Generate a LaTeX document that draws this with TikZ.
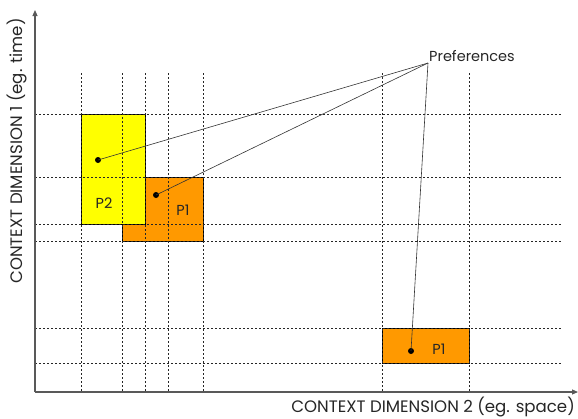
\documentclass[tikz,border=0pt]{standalone}
\usepackage{fontspec}
\setmainfont{Poppins}
\usetikzlibrary{arrows.meta}
\definecolor{pyellow}{RGB}{255,255,0}
\definecolor{porange}{RGB}{255,153,0}
\tikzset{
  grid/.style={draw=black!85, line width=0.7pt, dash pattern=on 2pt off 2pt},
  axis/.style={draw=black!65, line width=1.1pt, -{Triangle[length=6pt,width=5pt]}},
  region/.style={draw=black, line width=0.8pt},
  dot/.style={circle, fill=black, inner sep=0pt, minimum size=6pt},
  lbl/.style={font=\fontsize{14.5}{17}\selectfont, text=black!85},
  axlbl/.style={font=\fontsize{16.6}{19}\selectfont, text=black!85},
  link/.style={draw=black!80, line width=0.6pt}
}
\begin{document}
\begin{tikzpicture}[x=1pt,y=-1pt]
\useasboundingbox (0,0) rectangle (578,418);
% regions
\fill[porange] (122,177) rectangle (203,241);
\draw[region] (122,241) -- (203,241) -- (203,177) -- (145,177);
\draw[region] (122,224) -- (122,241);
\fill[pyellow] (81,114) rectangle (145,224);
\draw[region] (81,114) rectangle (145,224);
\fill[porange] (382,328) rectangle (469,363);
\draw[region] (382,328) rectangle (469,363);
% grid
\foreach \x in {81,122,145,168,203,382,469} \draw[grid] (\x,73) -- (\x,392);
\foreach \y in {114,177,224,241,328,363} \draw[grid] (35,\y) -- (562,\y);
% axes
\coordinate (o) at (35,392);
\coordinate (ytip) at (35,10);
\coordinate (xtip) at (578,392);
\draw[axis] (o) -- (ytip);
\draw[axis] (o) -- (xtip);
\node[axlbl, rotate=90, anchor=center] (ylab) at (17,151) {CONTEXT DIMENSION 1 (eg. time)};
\node[axlbl, anchor=east, inner sep=0pt] (xlab) at (575,407) {CONTEXT DIMENSION 2 (eg. space)};
% labels
\node[lbl] (p2) at (104,203) {P2};
\node[lbl] (p1a) at (183,210) {P1};
\node[lbl] (p1b) at (439,349) {P1};
% dots
\node[dot] (d1) at (98,160) {};
\node[dot] (d2) at (156,195) {};
\node[dot] (d3) at (411,351) {};
% preferences
\node[lbl, anchor=south west, inner sep=1pt] (pref) at (428,63) {Preferences};
\draw[link] (pref.south west) -- (d1.center);
\draw[link] (pref.south west) -- (d2.center);
\draw[link] (pref.south west) -- (d3.center);
\end{tikzpicture}
\end{document}
